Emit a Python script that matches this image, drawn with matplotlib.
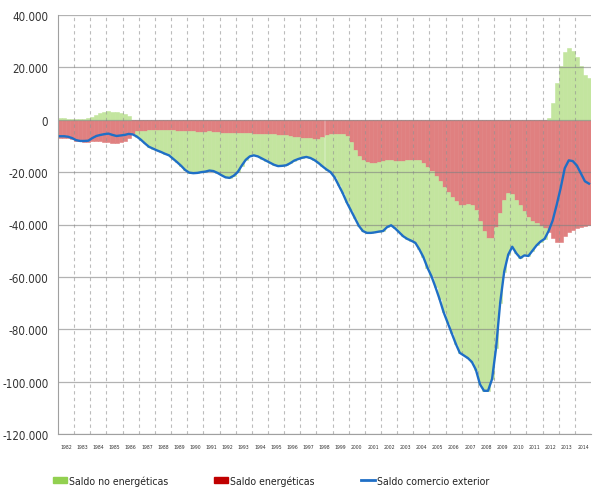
import numpy as np
import matplotlib.pyplot as plt
from matplotlib.patches import Patch
from matplotlib.lines import Line2D
from matplotlib.ticker import FuncFormatter, FixedLocator

plt.rcParams['font.family'] = ['DejaVu Sans']
plt.rcParams['font.stretch'] = 'condensed'

# Datos trimestrales (millones de euros)
anios = list(range(1982, 2015))

# Saldo comercio exterior (linea azul), 4 trimestres por anio
saldo_total = [
    -6.3, -6.3, -6.5, -7.0,      # 1982
    -7.8, -8.1, -8.1, -8.0,      # 1983
    -7.0, -6.2, -5.8, -5.5,      # 1984
    -5.3, -5.8, -6.2, -6.0,      # 1985
    -5.8, -5.4, -5.6, -6.4,      # 1986
    -7.6, -9.0, -10.3, -11.0,    # 1987
    -11.7, -12.3, -13.0, -13.6,  # 1988
    -14.9, -16.2, -17.6, -19.2,  # 1989
    -20.2, -20.4, -20.3, -20.0,  # 1990
    -19.8, -19.4, -19.6, -20.3,  # 1991
    -21.2, -22.0, -22.2, -21.4,  # 1992
    -20.0, -17.5, -15.3, -14.0,  # 1993
    -13.6, -14.0, -14.8, -15.6,  # 1994
    -16.4, -17.2, -17.7, -17.6,  # 1995
    -17.4, -16.6, -15.6, -15.0,  # 1996
    -14.5, -14.2, -14.6, -15.4,  # 1997
    -16.5, -17.8, -19.0, -20.0,  # 1998
    -22.0, -25.0, -28.0, -31.5,  # 1999
    -34.5, -37.5, -40.5, -42.5,  # 2000
    -43.2, -43.2, -43.0, -42.7,  # 2001
    -42.5, -41.0, -40.3, -41.5,  # 2002
    -43.0, -44.5, -45.5, -46.2,  # 2003
    -47.0, -49.5, -52.5, -56.5,  # 2004
    -59.8, -64.0, -68.5, -73.5,  # 2005
    -77.5, -81.5, -85.5, -89.0,  # 2006
    -90.0, -91.0, -92.5, -95.5,  # 2007
    -101.0, -103.5, -103.5, -99.0,  # 2008
    -87.0, -70.0, -58.0, -51.5,  # 2009
    -48.5, -51.0, -52.8, -51.8,  # 2010
    -52.0, -50.0, -48.0, -46.5,  # 2011
    -45.5, -42.5, -38.5, -32.5,  # 2012
    -26.0, -18.5, -15.5, -15.8,  # 2013
    -17.5, -20.5, -23.5, -24.4,  # 2014
]

# Saldo energeticas (barras rojas)
saldo_energeticas = [
    -7.1, -6.8, -6.8, -7.3,      # 1982
    -8.0, -8.3, -8.4, -8.5,      # 1983
    -8.0, -8.0, -8.3, -8.5,      # 1984
    -8.5, -8.8, -9.0, -8.6,      # 1985
    -8.0, -7.0, -5.5, -4.4,      # 1986
    -4.3, -4.2, -4.0, -4.0,      # 1987
    -3.9, -3.9, -4.0, -4.0,      # 1988
    -4.1, -4.2, -4.3, -4.4,      # 1989
    -4.3, -4.2, -4.5, -4.8,      # 1990
    -4.6, -4.4, -4.6, -4.8,      # 1991
    -4.9, -5.0, -5.0, -5.1,      # 1992
    -5.0, -5.1, -5.2, -5.2,      # 1993
    -5.3, -5.4, -5.5, -5.6,      # 1994
    -5.6, -5.6, -5.7, -5.7,      # 1995
    -5.9, -6.1, -6.4, -6.6,      # 1996
    -6.8, -7.0, -7.1, -7.2,      # 1997
    -7.2, -6.5, -6.0, -5.6,      # 1998
    -5.5, -5.4, -5.6, -6.3,      # 1999
    -8.5, -11.5, -14.0, -15.5,   # 2000
    -16.2, -16.6, -16.5, -16.0,  # 2001
    -15.6, -15.5, -15.5, -15.7,  # 2002
    -15.7, -15.6, -15.4, -15.2,  # 2003
    -15.2, -15.5, -16.5, -18.0,  # 2004
    -19.5, -21.5, -23.5, -25.5,  # 2005
    -27.5, -29.5, -31.0, -32.5,  # 2006
    -32.5, -32.0, -32.5, -34.5,  # 2007
    -38.5, -42.5, -45.0, -45.0,  # 2008
    -41.0, -35.5, -30.5, -28.0,  # 2009
    -28.5, -30.5, -32.5, -35.0,  # 2010
    -37.0, -38.5, -39.5, -40.5,  # 2011
    -41.5, -43.0, -45.0, -46.5,  # 2012
    -46.5, -44.5, -43.0, -42.0,  # 2013
    -41.5, -41.0, -40.5, -40.2,  # 2014
]

total = np.array(saldo_total) * 1000
energ = np.array(saldo_energeticas) * 1000
no_energ = total - energ

# posicion de cada trimestre en anios
x = np.array([a + (q + 0.5) / 4 for a in anios for q in range(4)])

verde = '#92D050'
rojo = '#C00000'
azul = '#1F6FC6'
# tonos de las barras (mas claros que en la leyenda)
verde_barra = '#C3E59F'
rojo_barra = '#E08080'

fig = plt.figure(figsize=(5.93, 4.89), dpi=100)
ax = fig.add_axes([58 / 593, 1 - 435 / 489, 533 / 593, 419 / 489])

# apilado estilo Excel: negativos debajo de la energia, positivos desde 0
base_verde = np.where(no_energ < 0, energ, 0)
ax.bar(x, energ, width=0.25, color=rojo_barra, edgecolor=rojo_barra,
       linewidth=0.4, zorder=1.5)
ax.bar(x, no_energ, width=0.25, bottom=base_verde, color=verde_barra,
       edgecolor=verde_barra, linewidth=0.4, zorder=1.5)
ax.plot(x, total, color=azul, linewidth=1.7, zorder=3)

ax.set_xlim(1982, 2015)
ax.set_ylim(-120000, 40000)
ax.set_yticks(np.arange(-120000, 40001, 20000))
ax.yaxis.set_major_formatter(FuncFormatter(lambda v, p: f"{v:,.0f}".replace(",", ".")))

# lineas de anio (discontinuas) y etiquetas centradas
ax.xaxis.set_major_locator(FixedLocator(list(range(1983, 2015))))
ax.xaxis.set_minor_locator(FixedLocator([a + 0.5 for a in anios]))
ax.xaxis.set_major_formatter(FuncFormatter(lambda v, p: ""))
ax.xaxis.set_minor_formatter(FuncFormatter(lambda v, p: str(int(v))))
ax.tick_params(axis='x', which='major', length=0)
ax.tick_params(axis='x', which='minor', length=0, labelsize=3.7, pad=7,
               labelcolor='#333333')
ax.tick_params(axis='y', length=0, labelsize=8.3, pad=7, labelcolor='#333333')

# rejilla por encima de las barras, semitransparente
ax.grid(axis='y', color='#808080', alpha=0.6, linewidth=0.9, zorder=2)
ax.grid(axis='x', which='major', color='#909090', alpha=0.6, linewidth=0.8,
        linestyle=(0, (3, 3)), zorder=2)

for s in ['top', 'right']:
    ax.spines[s].set_visible(False)
ax.spines['left'].set_color('#a0a0a0')
ax.spines['bottom'].set_color('#a0a0a0')

handles = [Patch(color=verde), Patch(color=rojo), Line2D([], [], color=azul, linewidth=2)]
labels = ['Saldo no energéticas', 'Saldo energéticas', 'Saldo comercio exterior']
fig.legend(handles, labels, loc='center left', bbox_to_anchor=(53 / 593, 1 - 481.5 / 489),
           ncol=3, frameon=False, fontsize=7.6, borderpad=0, borderaxespad=0,
           handlelength=1.33, handleheight=0.57, handletextpad=0.15,
           columnspacing=4.4, labelcolor='#222222')

fig.savefig("out.png", dpi=100)
